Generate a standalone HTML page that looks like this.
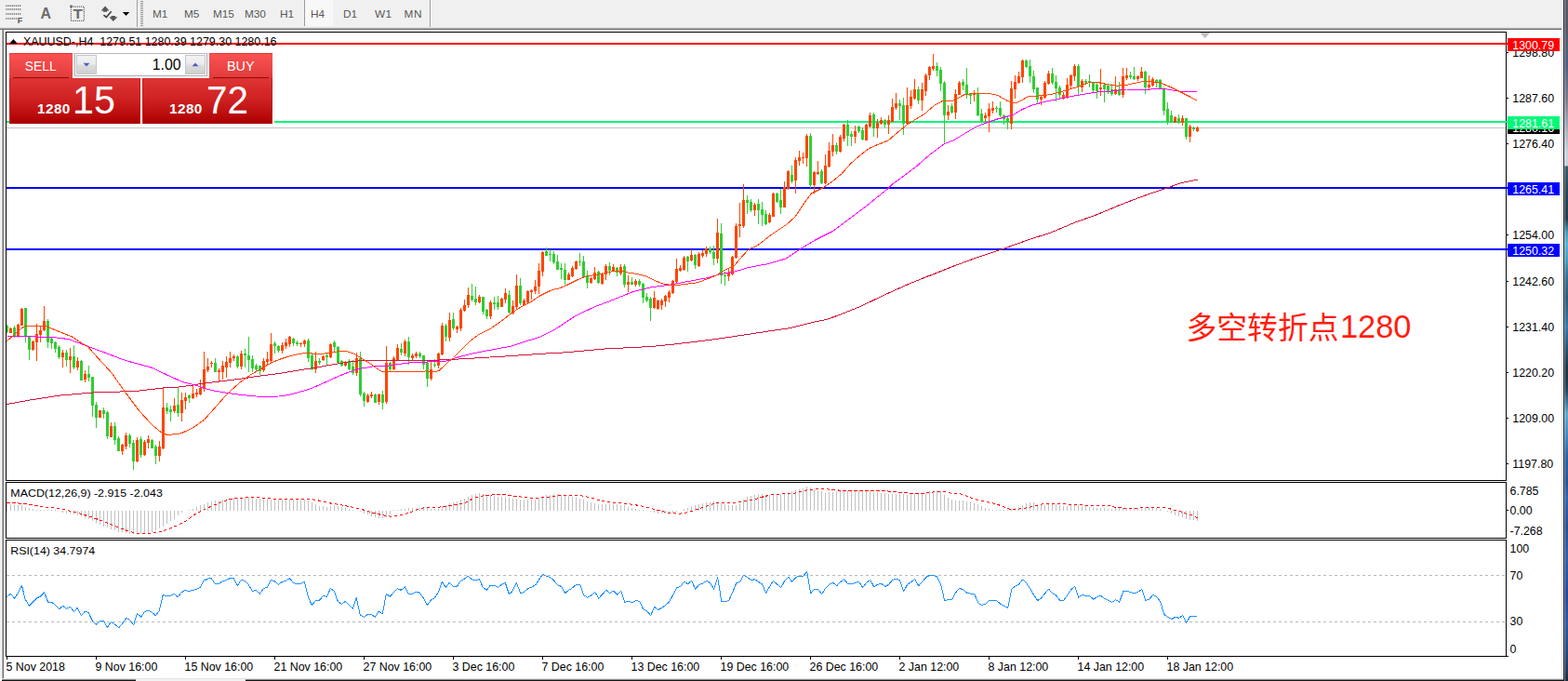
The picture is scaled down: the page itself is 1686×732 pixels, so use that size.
<!DOCTYPE html>
<html lang="en">
<head>
<meta charset="utf-8">
<title>XAUUSD-,H4</title>
<style>
*{box-sizing:border-box;margin:0;padding:0}
html,body{width:1686px;height:732px;overflow:hidden;background:#fff}
body{position:relative;font-family:"Liberation Sans",sans-serif;color:#000}
#toolbar{position:absolute;left:0;top:0;width:1681px;height:29px;background:#f0f0f0}
#tb-line{position:absolute;left:0;top:29px;width:1681px;height:3px;background:linear-gradient(#e4e4e4 0 1px,#b2b2b2 1px 2px,#6c6c6c 2px 3px)}
.tf{position:absolute;top:7px;height:16px;line-height:16px;font-size:11.8px;color:#585858;white-space:nowrap;letter-spacing:-0.1px}
#tf-active{position:absolute;left:327px;top:0;width:31px;height:28px;background:#f8f8f8;border-left:1px solid #9c9c9c}
.vsep{position:absolute;top:0;width:2px;height:29px;background:linear-gradient(90deg,#9a9a9a 0 1px,#fafafa 1px 2px)}
.grip{position:absolute;left:151px;top:1px;width:3px;height:27px;background:repeating-linear-gradient(#949494 0 1px,#f0f0f0 1px 2px)}
.ico{position:absolute;top:0;height:30px}
#left-edge{position:absolute;left:0;top:32px;width:5px;height:697px;background:linear-gradient(90deg,#f1f1f1 0 1px,#f6f6f6 1px 2px,#b2b2b2 2px 3px,#6e6e6e 3px 4px,#fff 4px 5px)}
#right-edge{position:absolute;left:1679px;top:0;width:7px;height:732px;background:linear-gradient(90deg,#e8e8e8 0 1px,#fff 1px 2px,#1f2026 2px 3px,rgba(255,255,255,.34) 3px 4px,rgba(255,255,255,.05) 4px 5px,rgba(0,0,0,0) 5px 7px),linear-gradient(180deg,#5c5768 0px,#58566a 30px,#566074 50px,#4e6080 70px,#7a7a8c 105px,#aeb0c0 140px,#ccd4de 165px,#c6ced8 178px,#3c5a6a 179px,#2a4252 210px,#243a4a 235px,#4a9abc 250px,#5cb2d2 262px,#4a9cc0 280px,#3a7494 295px,#2c5a7a 320px,#36709a 345px,#3a78a8 352px,#2a5070 375px,#1e3444 395px,#22384a 410px,#24455e 420px,#3f7396 432px,#62a9d2 445px,#4a8ec5 465px,#2d62a5 490px,#2a5496 520px,#3465b0 535px,#2a5096 565px,#3060a8 600px,#2a4898 640px,#2f5aa0 670px,#2a4a80 700px,#283858 720px,#222a3a 732px)}
#bottom-edge{position:absolute;left:2px;top:729px;width:1679px;height:3px;background:linear-gradient(#e4e4e4 0 1px,#8c8c8c 1px 2px,#151515 2px 3px)}
#bottom-gap{position:absolute;left:146px;top:730px;width:118px;height:2px;background:#f2f2f2}
/* one-click trade panel */
#oct{position:absolute;left:10px;top:57px;width:283px;height:76px}
.tab{position:absolute;top:0;height:28px;background:linear-gradient(#fb5252,#e03a3a);color:#fff;font-size:15.3px;text-align:center;border-top:1px solid #e23838}
.tab span{display:inline-block;line-height:26px;transform-origin:50% 50%}
.tab:after{content:"";position:absolute;left:4px;right:4px;bottom:0;height:2px;background:linear-gradient(#9c0a0a 0 1px,#ee6a6a 1px 2px)}
.px{position:absolute;top:27px;height:49px;background:linear-gradient(#de3434 0,#cf2222 45%,#b80a0a 85%,#ab0000 100%);color:#fff;border:1px solid #c41c1c;border-top-color:#d83030;border-bottom-color:#a40000}
.px .s{position:absolute;font-weight:bold;font-size:15.3px;line-height:16px;top:23.6px;letter-spacing:0.45px;white-space:nowrap}
.px .b{position:absolute;font-size:43px;line-height:42px;top:1.4px;white-space:nowrap;transform-origin:0 50%}
#vol{position:absolute;left:70px;top:0;width:143px;height:25px;background:#fff;border:1px solid #abadb3;border-top-color:#b6b8bf}
#vol .btn{position:absolute;top:1px;width:22px;height:21px;background:linear-gradient(#f2f2f2 0,#ebebeb 48%,#dddddd 52%,#cfcfcf 100%);border:1px solid #c3c6cb}
#vol .val{position:absolute;right:27.5px;top:-0.5px;height:23px;line-height:23px;font-size:15.8px;color:#000}
</style>
</head>
<body>
<div id="toolbar">
  <svg class="ico" style="left:0" width="146" height="30" viewBox="0 0 146 30">
    <g stroke="#676767" stroke-width="1.5" stroke-dasharray="1.2 0.9" fill="none">
      <path d="M6.4 6.2H23.2"/><path d="M6.4 9.9H23.2"/><path d="M6.4 14.9H23.2"/><path d="M6.4 19.9H18.2"/>
    </g>
    <text x="18.8" y="25.4" font-family="Liberation Sans, sans-serif" font-size="9" font-weight="bold" fill="#555">F</text>
    <text x="43.6" y="20.4" font-family="Liberation Sans, sans-serif" font-size="15.9" font-weight="bold" fill="#6c6c6c">A</text>
    <rect x="76.4" y="7.2" width="14" height="15.2" fill="none" stroke="#5c5c5c" stroke-width="1.2" stroke-dasharray="1.1 1"/>
    <rect x="75.2" y="5.6" width="2.6" height="2.2" fill="#666"/>
    <text x="78.4" y="20.4" font-family="Liberation Sans, sans-serif" font-size="14.4" font-weight="bold" fill="#6c6c6c" textLength="10.4" lengthAdjust="spacingAndGlyphs">T</text>
    <path d="M113.1 6.5L117.5 11.4H115.1V12.7H110.9V11.4H108.6z" fill="#585858"/>
    <path d="M121.8 23.1L126.4 18.2H123.9V16.9H119.6V18.2H117.3z" fill="#585858"/>
    <path d="M111.4 16.1L114.3 18.5L119.7 12.2" stroke="#484848" stroke-width="1.7" fill="none"/>
    <path d="M131.9 13H139.2L135.55 17.1z" fill="#000"/>
  </svg>
  <div class="vsep" style="left:147px"></div>
  <div class="grip"></div>
  <div id="tf-active"></div>
  <span class="tf" style="left:164px">M1</span>
  <span class="tf" style="left:198px">M5</span>
  <span class="tf" style="left:229px">M15</span>
  <span class="tf" style="left:263px">M30</span>
  <span class="tf" style="left:301px">H1</span>
  <span class="tf" style="left:334px">H4</span>
  <span class="tf" style="left:369px">D1</span>
  <span class="tf" style="left:403px;letter-spacing:0.3px">W1</span>
  <span class="tf" style="left:434.5px;letter-spacing:0.6px">MN</span>
  <div class="vsep" style="left:462px"></div>
</div>
<div id="tb-line"></div>
<div id="left-edge"></div>
<svg id="chart" width="1686" height="732" viewBox="0 0 1686 732" style="position:absolute;left:0;top:0" font-family="Liberation Sans, sans-serif">
<g id="hlines" shape-rendering="crispEdges">
<rect x="7" y="46" width="1612" height="2" fill="#ff0000"/>
<rect x="295" y="130" width="1324" height="2" fill="#00f977"/>
<rect x="7" y="130" width="3" height="2" fill="#00f977"/>
<rect x="7" y="137" width="1612" height="1" fill="#c4c4c4"/>
<rect x="7" y="201" width="1612" height="2" fill="#0000ff"/>
<rect x="7" y="267" width="1612" height="2" fill="#0000ff"/>
</g>
<g id="candles" shape-rendering="crispEdges"><path d="M11.5 351.5V357.5M19.5 348.2V363.2M23.5 331.0V349.5M35.5 365.8V376.5M39.5 348.2V387.5M43.5 350.0V367.5M47.5 329.0V355.8M67.5 375.8V395.0M75.5 374.0V400.8M83.5 383.5V397.5M91.5 398.2V410.8M107.5 441.0V448.5M119.5 454.0V470.0M131.5 477.0V489.0M135.5 465.0V483.2M147.5 470.0V497.0M155.5 473.2V490.0M159.5 467.5V482.0M171.5 474.0V495.8M175.5 416.5V483.2M187.5 428.2V444.0M195.5 422.0V453.2M199.5 422.0V439.5M207.5 414.0V429.0M211.5 418.2V427.0M215.5 408.2V424.5M219.5 378.2V420.8M223.5 385.0V400.0M227.5 388.2V395.0M235.5 395.8V409.5M239.5 388.2V408.2M243.5 383.2V405.8M247.5 378.2V395.0M251.5 380.8V387.5M259.5 377.0V396.5M283.5 385.0V400.0M287.5 377.5V392.0M291.5 357.5V390.8M303.5 367.5V380.0M307.5 364.0V374.5M311.5 360.8V373.2M323.5 367.5V372.5M327.5 365.0V373.2M339.5 378.2V400.8M347.5 381.5V388.2M355.5 369.0V385.0M371.5 387.5V394.0M383.5 379.0V404.0M395.5 422.5V432.5M399.5 420.8V428.2M407.5 422.5V434.5M415.5 372.0V434.0M423.5 383.2V398.2M427.5 370.0V387.0M435.5 365.0V382.5M443.5 380.0V387.0M447.5 377.5V385.0M463.5 387.0V409.0M471.5 379.0V395.8M475.5 347.0V381.5M483.5 335.8V367.0M491.5 349.5V358.2M495.5 330.8V355.8M499.5 321.5V335.0M503.5 309.0V330.8M515.5 317.0V325.8M527.5 322.5V342.5M539.5 319.5V330.0M543.5 310.0V325.8M551.5 323.2V337.5M555.5 294.5V331.5M563.5 320.8V328.2M567.5 311.5V325.8M571.5 310.8V322.0M575.5 300.8V315.8M579.5 283.2V315.8M583.5 269.5V297.0M611.5 293.0V301.2M615.5 286.2V297.5M619.5 279.5V290.0M635.5 297.5V305.0M639.5 287.0V301.2M647.5 292.5V306.2M651.5 283.8V300.5M659.5 283.8V292.0M667.5 283.8V295.5M675.5 295.5V313.8M683.5 299.5V307.5M703.5 312.5V332.0M707.5 322.0V333.0M711.5 321.2V333.0M715.5 317.0V329.5M719.5 312.0V325.0M723.5 300.5V316.2M727.5 278.0V304.5M731.5 284.5V292.0M735.5 275.0V291.2M743.5 268.0V281.2M751.5 270.5V287.0M755.5 268.8V277.0M759.5 265.0V276.2M771.5 235.0V283.0M783.5 288.8V302.0M787.5 274.5V295.5M791.5 239.5V278.0M795.5 217.5V254.5M799.5 198.0V245.0M811.5 218.0V231.8M827.5 229.2V240.0M831.5 206.8V233.0M843.5 195.0V223.0M847.5 182.5V204.2M855.5 168.5V208.0M859.5 161.8V177.5M863.5 163.5V176.0M867.5 143.5V178.5M875.5 184.2V207.5M879.5 172.5V187.5M887.5 166.0V197.5M891.5 153.0V180.0M895.5 143.5V168.0M903.5 145.0V164.2M907.5 132.5V151.8M919.5 135.0V153.5M931.5 133.0V151.0M935.5 121.0V136.8M943.5 128.0V147.5M947.5 126.0V134.2M955.5 124.2V144.2M959.5 106.0V131.0M963.5 100.0V117.5M975.5 94.2V134.2M979.5 96.8V116.8M983.5 85.0V106.8M991.5 89.2V119.2M995.5 79.2V103.0M999.5 71.0V85.5M1003.5 58.0V75.5M1019.5 113.0V129.0M1027.5 96.0V128.0M1031.5 86.5V102.2M1047.5 97.2V109.0M1059.5 121.0V130.5M1063.5 110.5V141.5M1067.5 108.5V122.2M1087.5 87.2V138.5M1091.5 80.5V106.0M1095.5 77.2V89.8M1099.5 64.0V88.5M1119.5 102.2V113.0M1123.5 86.5V106.0M1127.5 75.5V91.0M1143.5 98.5V107.2M1147.5 84.0V105.5M1151.5 79.8V96.0M1155.5 68.5V87.2M1163.5 84.8V99.0M1183.5 73.5V103.0M1199.5 82.2V101.5M1207.5 73.0V104.8M1211.5 73.0V85.5M1223.5 81.0V87.2M1227.5 72.2V84.0M1235.5 80.5V97.2M1239.5 83.0V93.0M1263.5 124.8V132.2M1271.5 124.0V134.8M1279.5 134.0V153.0M1287.5 135.5V142.2" stroke="#ff4500" stroke-width="1" fill="none"/><path d="M7.5 349.0V358.2M15.5 350.0V362.5M27.5 331.0V368.2M31.5 360.8V387.0M51.5 343.0V374.0M55.5 362.0V375.0M59.5 366.5V378.5M63.5 371.0V386.0M71.5 376.0V393.5M79.5 371.0V397.0M87.5 386.5V409.0M95.5 393.2V409.5M99.5 405.0V447.5M103.5 432.0V459.5M111.5 437.5V449.5M115.5 442.0V472.0M123.5 454.0V478.2M127.5 469.0V485.0M139.5 465.8V480.8M143.5 473.2V505.0M151.5 469.0V491.5M163.5 472.0V482.0M167.5 478.2V499.0M179.5 433.2V444.5M183.5 435.8V452.5M191.5 415.8V448.2M203.5 424.0V433.2M231.5 385.0V400.0M255.5 382.0V395.8M263.5 375.0V394.5M267.5 362.0V399.5M271.5 382.0V400.0M275.5 390.8V399.0M279.5 392.5V402.5M295.5 367.0V380.0M299.5 370.8V379.0M315.5 362.5V371.5M319.5 365.8V372.0M331.5 364.0V389.0M335.5 379.0V397.5M343.5 385.0V392.0M351.5 379.0V391.5M359.5 365.8V377.5M363.5 372.0V390.8M367.5 386.5V394.0M375.5 385.8V398.2M379.5 387.0V403.2M387.5 378.2V425.8M391.5 420.8V437.0M403.5 423.2V433.2M411.5 420.0V440.0M419.5 389.0V400.0M431.5 369.0V381.5M439.5 362.0V391.5M451.5 378.2V384.5M455.5 381.5V397.0M459.5 386.5V415.8M467.5 385.8V394.5M479.5 348.2V367.0M487.5 335.8V355.0M507.5 305.0V324.0M511.5 308.2V328.2M519.5 319.0V337.5M523.5 331.5V343.2M531.5 319.0V333.2M535.5 318.2V332.5M547.5 312.0V337.0M559.5 299.0V328.2M587.5 265.8V275.0M591.5 268.2V280.8M595.5 270.0V284.0M599.5 274.0V290.0M603.5 282.5V299.5M607.5 283.0V306.2M623.5 272.0V286.2M627.5 275.0V298.8M631.5 291.2V309.5M643.5 290.5V304.5M655.5 282.0V296.2M663.5 287.0V297.0M671.5 283.8V308.8M679.5 297.5V306.2M687.5 300.0V307.5M691.5 303.8V326.2M695.5 314.5V325.0M699.5 318.8V345.0M739.5 274.5V292.0M747.5 273.0V288.8M763.5 264.5V272.5M767.5 263.8V284.5M775.5 240.0V304.5M779.5 292.0V307.0M803.5 209.5V229.5M807.5 214.2V228.0M815.5 214.2V241.0M819.5 216.8V243.0M823.5 226.0V241.8M835.5 206.8V218.0M839.5 202.5V230.0M851.5 177.5V196.8M871.5 143.0V201.8M883.5 181.8V198.0M899.5 153.0V166.0M911.5 129.2V156.8M915.5 140.5V156.8M923.5 135.0V143.0M927.5 136.8V151.0M939.5 121.0V146.8M951.5 128.0V136.8M967.5 106.8V128.5M971.5 105.0V145.0M987.5 92.5V111.8M1007.5 67.2V82.2M1011.5 72.2V98.0M1015.5 86.5V153.5M1023.5 111.0V122.2M1035.5 84.8V97.2M1039.5 73.0V106.0M1043.5 99.8V112.2M1051.5 94.0V124.8M1055.5 117.2V131.5M1071.5 114.0V121.0M1075.5 108.5V125.5M1079.5 123.0V134.0M1083.5 124.0V138.5M1103.5 63.5V73.0M1107.5 64.0V89.0M1111.5 75.5V99.8M1115.5 93.5V110.5M1131.5 73.0V90.5M1135.5 80.5V109.0M1139.5 91.5V105.5M1159.5 69.0V102.2M1167.5 84.8V89.8M1171.5 79.8V94.0M1175.5 88.0V98.5M1179.5 89.0V106.0M1187.5 89.0V109.8M1191.5 91.0V100.5M1195.5 89.8V103.0M1203.5 88.0V103.0M1215.5 77.2V84.8M1219.5 71.5V86.0M1231.5 75.5V100.5M1243.5 84.8V94.0M1247.5 84.8V96.0M1251.5 94.0V123.5M1255.5 109.8V134.0M1259.5 119.0V131.5M1267.5 123.0V133.0M1275.5 126.5V149.8M1283.5 135.5V140.5" stroke="#32cd32" stroke-width="1" fill="none"/><path d="M10 352.5h3V357.5h-3zM18 349.0h3V361.5h-3zM22 331.5h3V349.5h-3zM34 366.5h3V375.8h-3zM38 359.0h3V367.5h-3zM42 354.5h3V359.5h-3zM46 345.0h3V355.0h-3zM66 378.5h3V383.5h-3zM74 382.5h3V387.0h-3zM82 387.5h3V395.0h-3zM90 402.0h3V408.2h-3zM106 441.0h3V448.5h-3zM118 458.2h3V469.5h-3zM130 478.2h3V484.5h-3zM134 468.2h3V480.0h-3zM146 473.2h3V495.8h-3zM154 475.0h3V489.0h-3zM158 472.0h3V475.8h-3zM170 479.5h3V490.0h-3zM174 437.5h3V481.5h-3zM186 435.8h3V442.0h-3zM194 430.0h3V443.5h-3zM198 426.5h3V431.0h-3zM206 423.2h3V427.5h-3zM210 421.5h3V424.0h-3zM214 416.5h3V424.0h-3zM218 396.5h3V418.2h-3zM222 394.0h3V397.5h-3zM226 389.5h3V391.0h-3zM234 397.5h3V400.0h-3zM238 392.5h3V399.5h-3zM242 389.0h3V394.5h-3zM246 384.5h3V389.5h-3zM250 382.8h3V385.0h-3zM258 380.0h3V394.0h-3zM282 387.5h3V398.2h-3zM286 386.0h3V389.0h-3zM290 370.0h3V387.5h-3zM302 371.0h3V377.0h-3zM306 368.2h3V371.5h-3zM310 362.0h3V369.5h-3zM322 368.5h3V370.0h-3zM326 366.0h3V369.5h-3zM338 387.5h3V396.5h-3zM346 382.5h3V386.5h-3zM354 369.5h3V384.0h-3zM370 389.0h3V392.5h-3zM382 385.0h3V400.8h-3zM394 424.5h3V431.5h-3zM398 424.0h3V425.8h-3zM406 424.0h3V432.0h-3zM414 390.0h3V432.0h-3zM422 384.5h3V397.0h-3zM426 374.0h3V386.5h-3zM434 367.0h3V379.5h-3zM442 382.0h3V384.5h-3zM446 380.0h3V382.5h-3zM462 397.0h3V406.5h-3zM470 380.0h3V392.5h-3zM474 349.5h3V380.8h-3zM482 344.0h3V362.5h-3zM490 350.8h3V354.0h-3zM494 332.5h3V353.2h-3zM498 327.5h3V334.0h-3zM502 316.5h3V328.2h-3zM514 319.0h3V324.5h-3zM526 324.5h3V340.0h-3zM538 320.8h3V329.5h-3zM542 315.0h3V321.5h-3zM550 329.0h3V336.5h-3zM554 307.0h3V330.0h-3zM562 323.2h3V327.5h-3zM566 312.5h3V324.5h-3zM570 311.5h3V313.5h-3zM574 307.5h3V313.2h-3zM578 290.8h3V308.2h-3zM582 270.8h3V292.0h-3zM610 294.5h3V300.5h-3zM614 287.5h3V297.0h-3zM618 280.5h3V288.8h-3zM634 298.8h3V304.2h-3zM638 292.5h3V300.0h-3zM646 293.8h3V304.5h-3zM650 286.2h3V295.0h-3zM658 287.0h3V291.2h-3zM666 287.0h3V293.8h-3zM674 302.5h3V306.2h-3zM682 302.0h3V306.2h-3zM702 320.0h3V331.2h-3zM706 323.0h3V332.0h-3zM710 322.5h3V327.5h-3zM714 318.0h3V323.8h-3zM718 313.8h3V319.5h-3zM722 302.0h3V315.0h-3zM726 288.8h3V303.0h-3zM730 287.5h3V290.5h-3zM734 277.0h3V289.5h-3zM742 273.8h3V280.0h-3zM750 273.0h3V285.5h-3zM754 272.0h3V275.0h-3zM758 267.0h3V273.0h-3zM770 250.0h3V278.0h-3zM782 293.0h3V297.0h-3zM786 275.5h3V294.5h-3zM790 242.5h3V277.0h-3zM794 241.2h3V243.0h-3zM798 215.0h3V243.0h-3zM810 220.0h3V226.0h-3zM826 231.0h3V238.5h-3zM830 208.0h3V232.5h-3zM842 200.5h3V222.5h-3zM846 183.5h3V203.0h-3zM854 171.8h3V194.2h-3zM858 169.2h3V173.0h-3zM862 168.5h3V170.0h-3zM866 146.0h3V170.0h-3zM874 185.0h3V199.2h-3zM878 185.0h3V187.0h-3zM886 178.0h3V196.8h-3zM890 161.8h3V179.2h-3zM894 156.0h3V163.0h-3zM902 146.8h3V163.0h-3zM906 134.2h3V148.5h-3zM918 141.0h3V146.8h-3zM930 134.2h3V150.5h-3zM934 123.5h3V135.5h-3zM942 131.8h3V137.5h-3zM946 129.2h3V133.0h-3zM954 129.2h3V134.2h-3zM958 115.0h3V130.5h-3zM962 111.0h3V116.0h-3zM974 113.0h3V132.5h-3zM978 104.2h3V114.2h-3zM982 96.0h3V106.0h-3zM990 95.5h3V108.0h-3zM994 80.5h3V97.5h-3zM998 71.8h3V81.0h-3zM1002 71.0h3V74.0h-3zM1018 119.8h3V124.0h-3zM1026 100.5h3V121.0h-3zM1030 88.5h3V101.5h-3zM1046 99.8h3V102.2h-3zM1058 123.5h3V127.2h-3zM1062 117.2h3V124.8h-3zM1066 116.0h3V118.5h-3zM1086 94.8h3V133.0h-3zM1090 88.0h3V95.5h-3zM1094 81.5h3V89.0h-3zM1098 64.8h3V83.0h-3zM1118 103.5h3V107.2h-3zM1122 88.5h3V104.8h-3zM1126 79.0h3V89.8h-3zM1142 101.5h3V106.0h-3zM1146 90.5h3V104.8h-3zM1150 81.0h3V91.5h-3zM1154 71.0h3V82.2h-3zM1162 87.2h3V93.5h-3zM1182 94.0h3V96.0h-3zM1198 96.0h3V100.5h-3zM1206 81.5h3V101.5h-3zM1210 80.5h3V83.5h-3zM1222 81.5h3V84.8h-3zM1226 76.5h3V83.5h-3zM1234 90.5h3V94.0h-3zM1238 84.8h3V92.2h-3zM1262 125.5h3V131.5h-3zM1270 127.2h3V132.2h-3zM1278 136.0h3V147.2h-3zM1286 136.5h3V141.0h-3z" fill="#ff4500"/><path d="M6 350.0h3V357.0h-3zM14 351.5h3V361.5h-3zM26 331.0h3V360.8h-3zM30 360.8h3V375.8h-3zM50 344.5h3V367.5h-3zM54 364.0h3V368.5h-3zM58 367.5h3V374.5h-3zM62 373.2h3V383.5h-3zM70 379.0h3V386.5h-3zM78 382.8h3V395.0h-3zM86 387.5h3V408.5h-3zM94 402.0h3V406.0h-3zM98 405.0h3V435.8h-3zM102 435.0h3V449.0h-3zM110 440.8h3V444.5h-3zM114 443.2h3V469.0h-3zM122 457.8h3V472.5h-3zM126 470.8h3V484.5h-3zM138 468.2h3V476.5h-3zM142 475.8h3V495.8h-3zM150 472.0h3V489.0h-3zM162 472.8h3V481.5h-3zM166 480.0h3V490.0h-3zM178 438.2h3V441.5h-3zM182 439.5h3V442.5h-3zM190 435.0h3V443.5h-3zM202 425.0h3V427.5h-3zM230 389.5h3V399.5h-3zM254 383.2h3V394.0h-3zM262 380.0h3V382.0h-3zM266 382.0h3V387.0h-3zM270 386.0h3V395.8h-3zM274 393.2h3V396.5h-3zM278 393.2h3V399.0h-3zM294 369.0h3V371.5h-3zM298 372.0h3V376.5h-3zM314 364.0h3V369.0h-3zM318 367.5h3V369.5h-3zM330 365.8h3V384.5h-3zM334 381.5h3V396.5h-3zM342 387.5h3V389.5h-3zM350 381.5h3V383.5h-3zM358 368.2h3V373.2h-3zM362 372.5h3V389.5h-3zM366 388.2h3V392.5h-3zM374 388.2h3V397.0h-3zM378 394.0h3V400.8h-3zM386 384.5h3V424.0h-3zM390 422.5h3V430.8h-3zM402 424.0h3V432.5h-3zM410 424.0h3V433.2h-3zM418 390.0h3V397.0h-3zM430 375.0h3V379.0h-3zM438 367.0h3V384.0h-3zM450 379.5h3V382.5h-3zM454 382.0h3V391.5h-3zM458 389.5h3V406.5h-3zM466 391.5h3V393.0h-3zM478 349.5h3V361.5h-3zM486 343.2h3V352.5h-3zM506 318.2h3V322.0h-3zM510 320.8h3V324.5h-3zM518 319.0h3V334.5h-3zM522 332.5h3V339.5h-3zM530 324.5h3V326.5h-3zM534 324.5h3V330.0h-3zM546 316.5h3V335.8h-3zM558 306.5h3V325.8h-3zM586 270.0h3V274.5h-3zM590 272.5h3V274.0h-3zM594 273.2h3V281.5h-3zM598 280.8h3V289.5h-3zM602 288.2h3V290.0h-3zM606 290.0h3V300.5h-3zM622 280.5h3V281.5h-3zM626 280.5h3V297.5h-3zM630 296.2h3V303.8h-3zM642 292.0h3V303.8h-3zM654 286.2h3V291.2h-3zM662 287.5h3V293.0h-3zM670 286.2h3V306.2h-3zM678 302.5h3V305.5h-3zM686 302.0h3V305.5h-3zM690 305.0h3V320.0h-3zM694 318.8h3V322.5h-3zM698 320.5h3V331.2h-3zM738 275.5h3V280.5h-3zM746 273.8h3V285.0h-3zM762 267.0h3V270.5h-3zM766 270.5h3V278.0h-3zM774 250.5h3V296.2h-3zM778 295.5h3V297.0h-3zM802 215.0h3V217.5h-3zM806 216.8h3V226.0h-3zM814 219.2h3V226.0h-3zM818 225.0h3V230.5h-3zM822 230.0h3V240.5h-3zM834 208.0h3V216.8h-3zM838 215.0h3V223.0h-3zM850 188.0h3V195.0h-3zM870 146.0h3V199.2h-3zM882 184.2h3V196.8h-3zM898 156.0h3V163.0h-3zM910 134.2h3V145.5h-3zM914 144.2h3V146.8h-3zM922 135.5h3V141.0h-3zM926 140.0h3V150.0h-3zM938 123.0h3V137.5h-3zM950 128.5h3V134.2h-3zM966 110.5h3V113.5h-3zM970 113.0h3V132.5h-3zM986 96.0h3V107.5h-3zM1006 71.0h3V76.0h-3zM1010 74.8h3V89.8h-3zM1014 88.5h3V124.0h-3zM1022 114.0h3V121.0h-3zM1034 88.0h3V91.5h-3zM1038 91.0h3V101.5h-3zM1042 100.5h3V103.0h-3zM1050 99.8h3V123.5h-3zM1054 121.5h3V129.8h-3zM1070 116.0h3V117.0h-3zM1074 115.5h3V124.0h-3zM1078 124.0h3V128.0h-3zM1082 127.2h3V132.2h-3zM1102 64.8h3V71.5h-3zM1106 71.0h3V81.5h-3zM1110 81.5h3V95.5h-3zM1114 94.0h3V106.5h-3zM1130 78.5h3V89.0h-3zM1134 88.0h3V94.8h-3zM1138 94.0h3V101.5h-3zM1158 71.0h3V93.0h-3zM1166 86.8h3V88.5h-3zM1170 87.2h3V89.0h-3zM1174 88.5h3V97.2h-3zM1178 90.5h3V98.0h-3zM1186 90.5h3V96.0h-3zM1190 92.2h3V98.5h-3zM1194 95.5h3V100.5h-3zM1202 96.0h3V101.5h-3zM1214 80.5h3V83.0h-3zM1218 82.2h3V84.8h-3zM1230 76.5h3V94.0h-3zM1242 85.5h3V89.0h-3zM1246 86.0h3V95.5h-3zM1250 94.8h3V118.5h-3zM1254 116.5h3V131.0h-3zM1258 123.5h3V131.0h-3zM1266 126.5h3V131.5h-3zM1274 127.2h3V146.5h-3zM1282 137.2h3V138.5h-3z" fill="#32cd32"/></g>
<g id="mas" stroke-linejoin="round" shape-rendering="crispEdges"><polyline points="7.5,434.5 32.5,430.0 65.0,425.0 100.0,422.0 135.0,420.8 150.0,420.0 175.0,417.0 195.0,415.8 200.0,415.0 220.0,412.0 240.0,409.5 260.0,407.0 280.0,404.0 300.0,401.5 320.0,398.2 340.0,395.0 360.0,391.5 375.0,389.0 390.0,387.5 400.0,387.5 402.5,387.0 425.0,387.0 460.0,387.5 485.0,386.5 510.0,385.0 540.0,383.2 575.0,380.8 595.0,379.5 600.0,379.5 650.0,375.0 700.0,372.5 725.0,370.0 750.0,367.0 775.0,363.8 800.0,360.0 825.0,356.2 850.0,352.5 875.0,346.2 887.5,343.8 900.0,339.5 925.0,329.5 950.0,317.5 975.0,306.2 997.5,297.0 1000.0,296.2 1025.0,286.2 1050.0,277.0 1080.0,267.0 1105.0,258.0 1130.0,250.0 1155.0,239.5 1180.0,230.5 1205.0,220.0 1230.0,210.5 1255.0,202.0 1267.5,197.5 1275.0,195.5 1287.5,193.2" fill="none" stroke="#d2143c" stroke-width="1" /><polyline points="7.5,361.5 25.0,361.5 37.5,362.0 65.0,363.2 75.0,365.0 95.0,372.5 112.5,379.0 135.0,387.5 162.5,395.0 180.0,403.2 195.0,410.0 200.0,411.5 210.0,414.0 220.0,417.5 230.0,420.0 245.0,422.5 260.0,424.5 275.0,426.0 290.0,426.2 300.0,426.0 310.0,424.5 320.0,422.0 335.0,417.5 350.0,410.8 365.0,404.0 375.0,400.0 385.0,396.5 395.0,395.0 400.0,394.0 412.5,393.8 425.0,392.0 440.0,390.0 460.0,389.0 480.0,388.0 495.0,383.2 510.0,379.5 530.0,375.8 550.0,372.0 565.0,367.0 580.0,362.5 595.0,355.0 600.0,352.0 620.0,338.8 640.0,329.5 660.0,322.0 680.0,313.8 700.0,308.8 720.0,306.2 740.0,302.5 760.0,298.8 775.0,294.5 790.0,292.0 805.0,287.5 825.0,283.8 845.0,278.0 860.0,268.0 875.0,258.8 895.0,248.8 915.0,233.8 935.0,218.8 955.0,202.5 960.0,197.5 970.0,190.5 985.0,179.2 1000.0,166.0 1011.0,158.0 1015.0,154.8 1025.0,151.0 1037.5,143.5 1050.0,136.0 1060.0,132.2 1072.5,128.0 1082.5,125.5 1090.0,123.0 1100.0,117.2 1110.0,113.0 1125.0,109.0 1140.0,106.0 1155.0,103.0 1170.0,100.5 1180.0,99.0 1195.0,98.0 1211.0,96.0 1230.0,96.5 1245.0,95.5 1255.0,96.0 1267.5,98.0 1280.0,98.5 1287.0,99.0" fill="none" stroke="#ff00ff" stroke-width="1" /><polyline points="7.5,366.5 15.5,359.5 25.0,351.5 27.5,350.0 47.5,350.0 53.8,352.5 65.0,357.0 77.5,362.0 85.0,367.0 95.0,373.2 105.0,384.5 120.0,400.8 135.0,422.0 150.0,442.0 165.0,458.2 175.0,465.8 180.0,467.5 185.0,467.0 195.0,465.8 200.0,463.2 202.5,462.5 210.0,458.2 220.0,450.8 230.0,439.5 240.0,428.2 250.0,418.2 260.0,409.5 270.0,402.5 280.0,397.0 290.0,390.8 300.0,386.5 310.0,383.2 320.0,380.8 327.5,379.5 335.0,380.0 345.0,380.8 355.0,379.0 365.0,377.5 372.5,377.5 380.0,380.0 390.0,385.8 397.5,390.5 400.0,392.0 405.0,395.8 411.2,400.0 425.0,399.5 443.8,400.0 457.5,399.0 467.5,400.0 472.5,398.2 480.0,390.8 487.5,384.5 495.0,377.0 505.0,367.0 515.0,359.5 527.5,353.2 540.0,344.5 550.0,336.5 560.0,330.0 570.0,325.0 580.0,318.2 590.0,313.2 597.5,310.5 600.0,310.5 610.0,306.2 620.0,301.2 630.0,297.0 640.0,295.5 650.0,293.8 660.0,291.2 670.0,291.2 675.0,293.0 685.0,294.5 695.0,297.0 705.0,302.0 712.5,305.0 720.0,306.2 730.0,306.2 740.0,305.0 750.0,303.8 760.0,300.0 770.0,296.2 780.0,290.0 790.0,285.0 797.5,276.2 805.0,268.0 811.0,265.5 815.0,263.5 830.0,251.8 846.2,241.0 855.0,233.0 865.0,218.0 872.5,208.0 885.0,201.8 895.0,195.0 905.0,186.8 915.0,175.5 925.0,166.8 935.0,159.2 945.0,155.0 955.0,151.0 965.0,142.5 975.0,134.2 985.0,128.0 995.0,121.8 1005.0,113.0 1011.0,110.0 1012.5,109.0 1025.0,108.0 1037.5,101.5 1050.0,100.0 1060.0,100.0 1072.5,102.2 1082.5,108.0 1090.0,111.0 1095.0,109.8 1105.0,104.0 1117.5,103.0 1130.0,101.5 1140.0,99.0 1150.0,96.0 1160.0,93.0 1170.0,89.0 1180.0,88.5 1190.0,90.5 1200.0,92.2 1211.0,91.5 1217.5,89.8 1227.5,88.0 1237.5,87.5 1247.5,89.0 1257.5,93.0 1267.5,98.0 1277.5,103.0 1287.0,108.0" fill="none" stroke="#ff4500" stroke-width="1" /></g>
<g id="macd" shape-rendering="crispEdges"><path d="M7.5 549V541.5M11.5 549V541.9M15.5 549V542.3M19.5 549V542.7M23.5 549V543.4M27.5 549V544.7M31.5 549V546.0M35.5 549V547.3M39.5 549V547.7M43.5 549V547.8M47.5 549V547.8M51.5 549V547.8M55.5 549V548.0M59.5 549V548.4M63.5 549V549.3M67.5 549V550.5M71.5 549V551.5M75.5 549V552.4M79.5 549V553.3M83.5 549V554.3M87.5 549V555.4M91.5 549V556.6M95.5 549V558.2M99.5 549V559.9M103.5 549V561.6M107.5 549V563.5M111.5 549V565.5M115.5 549V567.2M119.5 549V568.8M123.5 549V570.2M127.5 549V571.5M131.5 549V572.3M135.5 549V573.1M139.5 549V573.6M143.5 549V574.1M147.5 549V574.1M151.5 549V573.9M155.5 549V573.4M159.5 549V572.6M163.5 549V571.5M167.5 549V569.9M171.5 549V567.9M175.5 549V565.5M179.5 549V562.8M183.5 549V560.1M187.5 549V557.5M191.5 549V554.2M195.5 549V550.9M199.5 549V548.9M203.5 549V547.9M207.5 549V546.6M211.5 549V545.0M215.5 549V543.4M219.5 549V541.8M223.5 549V540.3M227.5 549V539.3M231.5 549V538.3M235.5 549V537.7M239.5 549V537.0M243.5 549V536.3M247.5 549V535.9M251.5 549V535.6M255.5 549V535.3M259.5 549V535.1M263.5 549V535.0M267.5 549V535.0M271.5 549V535.3M275.5 549V535.5M279.5 549V535.8M283.5 549V536.1M287.5 549V536.3M291.5 549V536.6M295.5 549V536.9M299.5 549V537.0M303.5 549V537.0M307.5 549V537.0M311.5 549V536.8M315.5 549V536.7M319.5 549V536.6M323.5 549V536.7M327.5 549V537.0M331.5 549V538.3M335.5 549V539.8M339.5 549V541.8M343.5 549V543.6M347.5 549V544.3M351.5 549V544.5M355.5 549V543.6M359.5 549V543.2M363.5 549V543.8M367.5 549V544.7M371.5 549V546.0M375.5 549V547.3M379.5 549V548.2M383.5 549V548.8M387.5 549V550.1M391.5 549V551.9M395.5 549V553.2M399.5 549V554.5M403.5 549V555.9M407.5 549V556.8M411.5 549V557.1M415.5 549V556.4M419.5 549V553.1M423.5 549V548.0M427.5 549V548.0M431.5 549V547.2M435.5 549V546.5M439.5 549V545.9M443.5 549V545.5M447.5 549V545.5M451.5 549V545.5M455.5 549V545.5M459.5 549V546.0M463.5 549V546.9M467.5 549V547.3M471.5 549V546.7M475.5 549V544.9M479.5 549V543.1M483.5 549V541.3M487.5 549V539.9M491.5 549V538.8M495.5 549V537.4M499.5 549V535.8M503.5 549V534.1M507.5 549V532.3M511.5 549V531.2M515.5 549V530.3M519.5 549V530.9M523.5 549V531.6M527.5 549V532.2M531.5 549V532.9M535.5 549V533.5M539.5 549V533.8M543.5 549V534.2M547.5 549V535.0M551.5 549V535.7M555.5 549V536.2M559.5 549V536.7M563.5 549V537.1M567.5 549V537.3M571.5 549V537.3M575.5 549V536.8M579.5 549V536.1M583.5 549V534.4M587.5 549V532.4M591.5 549V531.6M595.5 549V531.0M599.5 549V531.3M603.5 549V531.7M607.5 549V532.5M611.5 549V533.2M615.5 549V533.7M619.5 549V534.5M623.5 549V535.6M627.5 549V536.9M631.5 549V538.5M635.5 549V539.8M639.5 549V540.8M643.5 549V541.6M647.5 549V542.2M651.5 549V542.3M655.5 549V542.3M659.5 549V542.3M663.5 549V542.4M667.5 549V542.8M671.5 549V543.4M675.5 549V544.8M679.5 549V545.9M683.5 549V546.9M687.5 549V547.5M691.5 549V547.9M695.5 549V549.0M699.5 549V550.2M703.5 549V551.1M707.5 549V551.8M711.5 549V552.2M715.5 549V552.0M719.5 549V551.6M723.5 549V550.8M727.5 549V549.9M731.5 549V548.5M735.5 549V547.0M739.5 549V545.5M743.5 549V544.2M747.5 549V543.0M751.5 549V541.9M755.5 549V541.1M759.5 549V540.4M763.5 549V539.8M767.5 549V539.1M771.5 549V538.7M775.5 549V541.0M779.5 549V542.1M783.5 549V543.0M787.5 549V543.0M791.5 549V542.6M795.5 549V541.0M799.5 549V536.6M803.5 549V534.2M807.5 549V532.5M811.5 549V531.7M815.5 549V531.0M819.5 549V531.3M823.5 549V531.6M827.5 549V532.0M831.5 549V532.2M835.5 549V531.8M839.5 549V531.2M843.5 549V530.3M847.5 549V529.2M851.5 549V528.1M855.5 549V527.1M859.5 549V525.9M863.5 549V524.5M867.5 549V523.0M871.5 549V524.4M875.5 549V525.7M879.5 549V527.1M883.5 549V528.4M887.5 549V529.7M891.5 549V529.4M895.5 549V528.9M899.5 549V528.2M903.5 549V527.5M907.5 549V527.3M911.5 549V527.4M915.5 549V527.5M919.5 549V527.5M923.5 549V527.5M927.5 549V527.6M931.5 549V527.8M935.5 549V528.1M939.5 549V528.5M943.5 549V528.9M947.5 549V529.5M951.5 549V530.3M955.5 549V531.0M959.5 549V530.8M963.5 549V530.6M967.5 549V530.8M971.5 549V531.2M975.5 549V531.5M979.5 549V531.1M983.5 549V530.7M987.5 549V530.3M991.5 549V530.0M995.5 549V529.7M999.5 549V528.3M1003.5 549V527.3M1007.5 549V527.3M1011.5 549V528.4M1015.5 549V531.7M1019.5 549V534.9M1023.5 549V537.2M1027.5 549V538.1M1031.5 549V538.2M1035.5 549V538.4M1039.5 549V538.5M1043.5 549V539.4M1047.5 549V540.5M1051.5 549V542.3M1055.5 549V544.2M1059.5 549V546.2M1063.5 549V547.3M1067.5 549V547.8M1071.5 549V547.8M1075.5 549V547.8M1079.5 549V547.8M1083.5 549V547.8M1087.5 549V547.3M1091.5 549V546.3M1095.5 549V544.7M1099.5 549V542.7M1103.5 549V541.4M1107.5 549V540.4M1111.5 549V540.3M1115.5 549V541.7M1119.5 549V542.9M1123.5 549V542.5M1127.5 549V541.7M1131.5 549V541.3M1135.5 549V542.4M1139.5 549V543.3M1143.5 549V543.8M1147.5 549V543.8M1151.5 549V543.4M1155.5 549V543.0M1159.5 549V543.4M1163.5 549V543.8M1167.5 549V544.3M1171.5 549V544.9M1175.5 549V545.5M1179.5 549V545.5M1183.5 549V545.5M1187.5 549V546.0M1191.5 549V546.8M1195.5 549V547.2M1199.5 549V546.3M1203.5 549V546.0M1207.5 549V546.0M1211.5 549V546.0M1215.5 549V546.0M1219.5 549V545.9M1223.5 549V545.8M1227.5 549V545.8M1231.5 549V545.8M1235.5 549V545.8M1239.5 549V546.0M1243.5 549V546.3M1247.5 549V546.7M1251.5 549V548.5M1255.5 549V550.0M1259.5 549V551.7M1263.5 549V553.6M1267.5 549V554.8M1271.5 549V555.9M1275.5 549V557.6M1279.5 549V558.6M1283.5 549V558.8M1287.5 549V559.5" stroke="#c0c0c0" stroke-width="1" fill="none"/><polyline points="7.5,540.3 20.0,541.0 32.5,542.3 45.1,544.8 57.6,546.0 70.1,548.0 82.6,551.0 95.1,554.8 107.6,559.1 120.2,564.1 132.7,569.1 145.2,573.1 157.7,574.1 170.2,572.3 180.2,569.1 190.2,564.8 200.3,559.8 207.8,554.0 217.8,548.5 227.8,544.0 237.8,539.8 247.8,536.5 255.3,535.3 265.3,534.8 275.3,534.8 287.9,535.5 300.4,536.8 312.9,537.0 325.4,536.5 335.4,536.8 345.4,538.5 355.4,541.0 368.0,543.0 380.5,545.5 390.5,548.0 400.5,551.0 410.5,553.5 418.0,554.8 420.0,555.5 430.0,554.0 440.0,551.0 450.0,547.3 457.5,545.5 470.1,545.5 480.1,544.0 492.6,542.3 500.1,540.3 507.6,536.5 515.1,533.5 525.1,532.3 535.1,531.5 545.2,532.0 555.2,533.5 565.2,534.5 575.2,535.5 585.2,534.8 595.2,533.5 605.2,532.5 615.2,532.3 625.3,532.8 632.8,534.3 640.3,536.5 650.3,539.0 660.3,540.3 670.3,541.0 680.3,542.3 690.3,544.0 700.4,546.5 710.4,549.0 720.4,551.5 730.4,552.3 740.4,550.5 750.4,547.3 760.4,544.0 770.4,540.5 780.5,540.3 790.5,540.3 800.5,538.5 810.5,537.3 820.5,534.0 830.5,531.5 838.0,531.0 840.0,530.5 855.0,530.0 865.0,527.3 877.5,525.5 887.6,525.5 895.1,526.5 905.1,527.3 925.1,527.3 947.6,527.3 957.6,528.3 970.2,529.5 980.2,530.3 992.7,530.3 1002.7,529.0 1015.2,528.3 1022.7,530.3 1032.7,531.0 1040.3,533.5 1047.8,536.5 1057.8,539.0 1067.8,541.0 1077.8,544.0 1085.3,547.3 1092.8,547.5 1102.8,546.0 1112.8,544.0 1120.4,542.0 1130.4,541.3 1140.4,541.5 1152.9,542.3 1165.4,543.0 1177.9,543.0 1187.9,543.0 1195.4,544.0 1200.0,545.7 1212.5,546.3 1225.0,546.0 1237.5,545.8 1250.1,545.7 1256.3,546.3 1262.6,548.3 1268.8,549.5 1275.1,552.0 1281.4,553.5 1287.6,556.7" fill="none" stroke="#ff0000" stroke-width="1" stroke-dasharray="3.2 2.8"/></g>
<g id="rsi" stroke-linejoin="round" shape-rendering="crispEdges"><path d="M7 618.5H1619M7 668.5H1619" stroke="#b8b8b8" stroke-width="1" stroke-dasharray="3 3" fill="none"/><polyline points="7.0,641.7 11.3,638.3 15.8,643.3 19.7,636.7 23.5,629.3 27.0,643.8 31.3,651.3 35.8,646.7 40.0,642.7 43.7,641.0 47.5,636.7 51.7,647.2 55.8,647.3 59.7,650.5 63.7,654.7 67.5,651.3 71.7,654.3 75.3,652.2 79.7,657.7 83.3,653.3 87.5,661.7 91.3,657.2 95.0,658.3 99.7,668.0 103.7,671.3 108.0,667.2 111.7,667.7 115.7,674.7 119.3,668.3 123.7,671.3 127.7,674.7 131.7,670.0 135.8,664.3 139.7,666.3 143.7,671.7 147.5,659.3 151.7,663.3 155.3,657.7 159.2,656.3 163.3,658.3 167.5,661.7 171.3,656.3 175.3,639.3 179.3,640.7 183.3,640.5 187.2,638.3 191.3,641.7 195.3,636.7 199.3,634.3 203.3,635.7 207.5,634.3 211.3,633.3 215.3,631.3 219.3,623.8 223.3,622.3 227.0,621.3 231.3,627.7 235.3,627.3 239.3,625.0 243.3,623.3 247.3,621.7 251.3,621.7 255.3,629.7 259.3,623.3 263.3,624.3 267.5,628.8 271.3,635.7 274.2,634.7 275.0,634.3 279.3,638.3 283.3,632.7 287.5,631.0 291.3,623.3 295.3,624.7 299.3,628.3 303.3,625.5 307.3,624.3 311.3,621.7 315.3,626.3 319.3,627.7 323.3,627.3 327.3,625.5 331.3,641.0 335.3,650.5 339.3,645.5 343.3,645.5 347.3,640.5 351.3,641.3 355.3,632.7 359.3,635.0 363.3,646.3 367.3,649.3 371.3,646.3 375.3,650.5 379.3,654.3 383.3,642.7 387.3,661.0 391.3,663.3 395.3,660.5 399.3,660.5 403.3,663.3 407.3,657.2 411.3,660.0 415.3,638.3 419.3,641.3 423.3,636.7 427.3,632.7 431.3,634.3 435.3,630.7 439.3,638.3 443.3,638.3 447.3,636.3 451.3,637.2 455.3,643.0 459.3,650.5 463.3,645.0 467.3,642.7 471.3,636.7 475.3,625.5 479.3,631.3 483.3,626.3 487.3,630.5 491.3,630.5 495.3,624.3 499.3,622.2 503.3,619.3 507.3,622.7 511.3,623.8 515.3,622.7 519.3,631.3 523.3,634.3 527.3,629.3 531.3,629.3 535.3,631.3 539.3,628.3 543.3,626.3 547.3,638.3 550.0,636.7 555.3,626.3 559.7,637.7 563.7,636.3 567.7,632.7 571.7,631.0 575.7,628.8 579.7,623.0 583.7,617.2 587.7,619.3 591.7,620.5 595.7,624.3 599.7,628.8 603.7,630.5 607.7,637.7 611.7,634.3 615.7,631.7 619.7,628.3 623.7,628.3 627.7,639.7 631.7,642.3 635.7,640.0 639.7,636.3 643.7,643.3 647.7,638.8 651.7,634.3 655.7,637.7 659.7,635.0 663.7,639.3 667.7,635.5 671.7,647.3 675.7,646.3 679.7,647.7 683.7,645.5 687.7,646.3 691.7,655.0 695.7,656.7 699.7,661.7 703.7,652.2 707.7,655.5 711.7,653.3 715.7,650.5 719.7,646.7 723.7,639.3 727.7,631.7 731.7,630.5 735.7,625.0 739.7,627.7 743.7,624.3 747.7,633.3 751.7,628.3 755.7,627.2 759.7,624.3 763.7,626.7 767.7,633.3 771.7,620.5 775.7,646.3 779.7,646.7 783.7,645.5 787.7,636.7 791.7,626.7 795.7,625.5 799.7,618.0 803.7,620.5 807.7,623.8 811.7,622.7 815.7,625.5 819.7,628.0 823.7,637.7 825.0,634.7 831.3,624.3 835.3,627.7 839.7,631.7 843.7,624.3 847.7,620.0 851.7,625.5 855.7,620.5 859.7,619.3 863.7,619.3 867.7,614.3 871.7,637.7 875.7,633.3 879.7,633.3 883.7,638.8 887.7,632.2 891.7,628.0 895.7,626.3 899.7,629.7 903.7,625.5 907.7,622.7 911.7,627.7 915.7,627.7 919.7,626.3 923.7,625.5 927.7,631.7 931.7,626.3 935.7,623.3 939.7,630.7 943.7,628.3 947.7,627.3 951.7,630.5 955.7,628.3 959.7,623.3 963.7,622.2 967.7,623.8 971.7,635.7 975.7,628.3 979.7,625.5 983.7,622.7 987.7,629.7 991.7,625.5 995.7,620.5 999.7,618.3 1003.7,618.3 1007.7,620.0 1011.7,628.3 1015.7,645.5 1019.7,644.7 1023.7,644.7 1027.7,636.7 1031.7,632.3 1035.7,633.8 1039.7,637.2 1043.7,638.3 1047.7,638.3 1051.7,648.0 1055.7,650.5 1059.7,649.3 1063.7,645.5 1067.7,645.5 1071.7,645.5 1075.7,649.3 1079.7,651.3 1083.7,653.3 1087.7,633.3 1091.7,630.0 1095.7,628.0 1099.2,623.0 1100.0,623.0 1103.7,626.7 1107.7,632.7 1111.7,639.7 1115.7,645.5 1119.7,643.0 1123.7,637.7 1127.7,633.3 1131.7,638.0 1135.7,640.0 1139.7,645.5 1143.7,645.5 1147.7,639.7 1151.7,633.8 1155.7,630.5 1159.7,642.2 1163.7,639.3 1167.7,640.5 1171.7,640.5 1175.7,644.3 1179.7,641.3 1183.7,640.5 1187.7,643.3 1191.7,645.5 1195.7,647.3 1199.7,644.7 1203.7,647.3 1207.7,635.7 1211.7,635.3 1215.7,636.7 1219.7,637.7 1223.7,636.3 1227.7,633.3 1231.7,645.5 1235.7,644.3 1239.7,639.3 1243.7,641.3 1247.7,646.7 1251.7,660.5 1255.7,663.3 1259.7,665.5 1263.7,663.3 1267.7,664.3 1271.7,661.3 1275.7,669.7 1279.7,662.3 1283.7,662.3 1287.0,662.3" fill="none" stroke="#1e90ff" stroke-width="1" /></g>

<g fill="none" stroke="#000" stroke-width="1" shape-rendering="crispEdges">
<rect x="6.5" y="34.5" width="1613" height="482"/>
<rect x="6.5" y="518.5" width="1613" height="60"/>
<rect x="6.5" y="580.5" width="1613" height="125"/>
<path d="M1619.5 705.5H1622"/>
</g>

<path d="M1290 35H1301.2L1295.6 41.2z" fill="#c0c0c0"/>
<g shape-rendering="crispEdges"><rect x="1619" y="46" width="2" height="2" fill="#ff0000"/><rect x="1619" y="130" width="2" height="2" fill="#00f977"/><rect x="1619" y="201" width="2" height="2" fill="#0000ff"/><rect x="1619" y="267" width="2" height="2" fill="#0000ff"/></g>
<g id="axis"><rect x="1620" y="56" width="2" height="1" fill="#000"/><text x="1626.3" y="60.699999999999996" font-size="12.4" fill="#000" text-anchor="start" >1298.80</text><rect x="1620" y="105" width="2" height="1" fill="#000"/><text x="1626.3" y="109.7" font-size="12.4" fill="#000" text-anchor="start" >1287.60</text><rect x="1620" y="154" width="2" height="1" fill="#000"/><text x="1626.3" y="158.8" font-size="12.4" fill="#000" text-anchor="start" >1276.40</text><rect x="1620" y="252" width="2" height="1" fill="#000"/><text x="1626.3" y="256.9" font-size="12.4" fill="#000" text-anchor="start" >1254.00</text><rect x="1620" y="302" width="2" height="1" fill="#000"/><text x="1626.3" y="306.79999999999995" font-size="12.4" fill="#000" text-anchor="start" >1242.60</text><rect x="1620" y="351" width="2" height="1" fill="#000"/><text x="1626.3" y="355.79999999999995" font-size="12.4" fill="#000" text-anchor="start" >1231.40</text><rect x="1620" y="400" width="2" height="1" fill="#000"/><text x="1626.3" y="404.9" font-size="12.4" fill="#000" text-anchor="start" >1220.20</text><rect x="1620" y="449" width="2" height="1" fill="#000"/><text x="1626.3" y="453.9" font-size="12.4" fill="#000" text-anchor="start" >1209.00</text><rect x="1620" y="498" width="2" height="1" fill="#000"/><text x="1626.3" y="503.0" font-size="12.4" fill="#000" text-anchor="start" >1197.80</text><rect x="1621" y="130" width="56" height="14" fill="#000"/><text x="1626.3" y="141.8" font-size="12.4" fill="#fff" text-anchor="start" >1280.16</text><rect x="1621" y="125" width="56" height="14" fill="#00f977"/><text x="1626.3" y="136.8" font-size="12.4" fill="#fff" text-anchor="start" >1281.61</text><rect x="1621" y="41" width="56" height="14" fill="#ff0000"/><text x="1626.3" y="52.8" font-size="12.4" fill="#fff" text-anchor="start" >1300.79</text><rect x="1621" y="196" width="56" height="14" fill="#0000ff"/><text x="1626.3" y="207.8" font-size="12.4" fill="#fff" text-anchor="start" >1265.41</text><rect x="1621" y="262" width="56" height="14" fill="#0000ff"/><text x="1626.3" y="273.8" font-size="12.4" fill="#fff" text-anchor="start" >1250.32</text><text x="1623.5" y="532.1999999999999" font-size="12.4" fill="#000" text-anchor="start" >6.785</text><text x="1623.5" y="553.4" font-size="12.4" fill="#000" text-anchor="start" >0.00</text><text x="1623.5" y="574.6999999999999" font-size="12.4" fill="#000" text-anchor="start" >-7.268</text><rect x="1620" y="548" width="2" height="1" fill="#000"/><text x="1623.5" y="594.0" font-size="12.4" fill="#000" text-anchor="start" >100</text><text x="1623.5" y="623.1" font-size="12.4" fill="#000" text-anchor="start" >70</text><text x="1623.5" y="672.4" font-size="12.4" fill="#000" text-anchor="start" >30</text><text x="1623.5" y="701.8" font-size="12.4" fill="#000" text-anchor="start" >0</text><rect x="7" y="706" width="1" height="3" fill="#000"/><text x="6.5" y="720.6" font-size="12.4" fill="#000" text-anchor="start" >5 Nov 2018</text><rect x="103" y="706" width="1" height="3" fill="#000"/><text x="102.5" y="720.6" font-size="12.4" fill="#000" text-anchor="start" >9 Nov 16:00</text><rect x="199" y="706" width="1" height="3" fill="#000"/><text x="198.5" y="720.6" font-size="12.4" fill="#000" text-anchor="start" >15 Nov 16:00</text><rect x="295" y="706" width="1" height="3" fill="#000"/><text x="294.5" y="720.6" font-size="12.4" fill="#000" text-anchor="start" >21 Nov 16:00</text><rect x="391" y="706" width="1" height="3" fill="#000"/><text x="390.5" y="720.6" font-size="12.4" fill="#000" text-anchor="start" >27 Nov 16:00</text><rect x="487" y="706" width="1" height="3" fill="#000"/><text x="486.5" y="720.6" font-size="12.4" fill="#000" text-anchor="start" >3 Dec 16:00</text><rect x="583" y="706" width="1" height="3" fill="#000"/><text x="582.5" y="720.6" font-size="12.4" fill="#000" text-anchor="start" >7 Dec 16:00</text><rect x="679" y="706" width="1" height="3" fill="#000"/><text x="678.5" y="720.6" font-size="12.4" fill="#000" text-anchor="start" >13 Dec 16:00</text><rect x="775" y="706" width="1" height="3" fill="#000"/><text x="774.5" y="720.6" font-size="12.4" fill="#000" text-anchor="start" >19 Dec 16:00</text><rect x="871" y="706" width="1" height="3" fill="#000"/><text x="870.5" y="720.6" font-size="12.4" fill="#000" text-anchor="start" >26 Dec 16:00</text><rect x="967" y="706" width="1" height="3" fill="#000"/><text x="966.5" y="720.6" font-size="12.4" fill="#000" text-anchor="start" >2 Jan 12:00</text><rect x="1063" y="706" width="1" height="3" fill="#000"/><text x="1062.5" y="720.6" font-size="12.4" fill="#000" text-anchor="start" >8 Jan 12:00</text><rect x="1159" y="706" width="1" height="3" fill="#000"/><text x="1158.5" y="720.6" font-size="12.4" fill="#000" text-anchor="start" >14 Jan 12:00</text><rect x="1255" y="706" width="1" height="3" fill="#000"/><text x="1254.5" y="720.6" font-size="12.4" fill="#000" text-anchor="start" >18 Jan 12:00</text></g>
<g id="titles"><text x="25" y="48.6" font-size="12" fill="#000" text-anchor="start" id="t_title" textLength="272.5" lengthAdjust="spacingAndGlyphs">XAUUSD-,H4&#160; 1279.51 1280.39 1279.30 1280.16</text><path d="M10 46.9L14.45 42L18.9 46.9z" fill="#000"/><text x="11.3" y="534" font-size="11.8" fill="#000" text-anchor="start" id="t_macd" textLength="163.5" lengthAdjust="spacingAndGlyphs">MACD(12,26,9) -2.915 -2.043</text><text x="11.2" y="596.2" font-size="11.8" fill="#000" text-anchor="start" id="t_rsi" textLength="91" lengthAdjust="spacingAndGlyphs">RSI(14) 34.7974</text></g>
<g id="annotation"><text x="1275.5" y="364.2" font-size="33.4" fill="#ff1e0f" text-anchor="start" font-family="'Liberation Sans','Noto Sans CJK SC',sans-serif" textLength="164" lengthAdjust="spacingAndGlyphs">多空转折点</text><text x="1440.9" y="363.0" font-size="35.6" fill="#ff1e0f" text-anchor="start" id="t_ann" textLength="76.6" lengthAdjust="spacingAndGlyphs">1280</text></g>
</svg>
<div id="oct">
  <div class="tab" style="left:0;width:68px"><span id="sell" style="transform:scaleX(0.9)">SELL</span></div>
  <div class="tab" style="left:215px;width:68px"><span id="buy" style="transform:scaleX(0.94)">BUY</span></div>
  <div id="vol">
    <div class="btn" style="left:1px"><svg width="20" height="19" viewBox="0 0 20 19"><path d="M6.5 7.8H13.5L10 11.6z" fill="#4a5fbe"/></svg></div>
    <div class="val">1.00</div>
    <div class="btn" style="right:1px"><svg width="20" height="19" viewBox="0 0 20 19"><path d="M6.5 11.2H13.5L10 7.4z" fill="#4a5fbe"/></svg></div>
  </div>
  <div class="px" style="left:0;width:141px"><span class="s" style="left:29px">1280</span><span class="b" id="b15" style="left:67px;transform:scaleX(0.96)">15</span></div>
  <div class="px" style="left:143px;width:140px"><span class="s" style="left:28px">1280</span><span class="b" id="b72" style="left:68.1px;transform:scaleX(0.94)">72</span></div>
</div>
<div id="right-edge"></div>
<div style="position:absolute;left:1679px;top:0;width:1px;height:29px;background:#f0f0f0"></div>
<div id="bottom-edge"></div>
<div id="bottom-gap"></div>
</body>
</html>
